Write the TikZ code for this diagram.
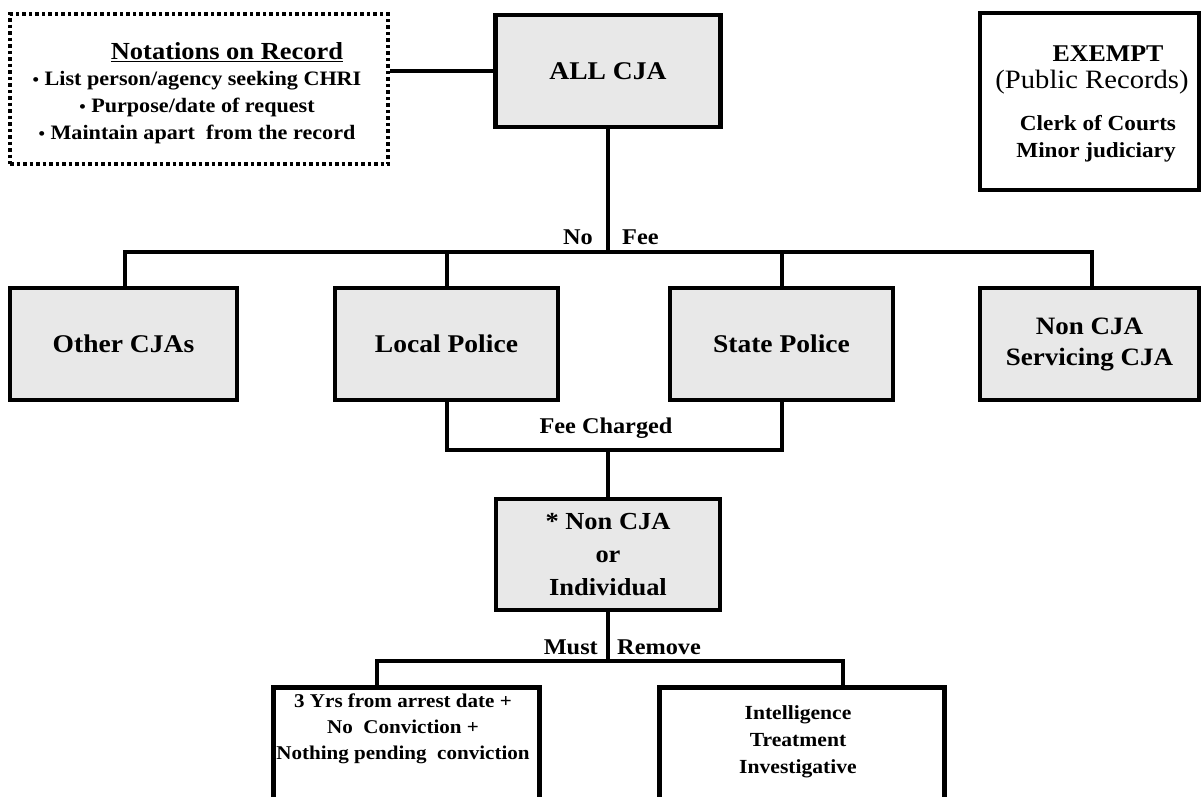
\documentclass[tikz,border=0pt]{standalone}
\usepackage{fontspec}
\setmainfont{Liberation Serif}[FakeStretch=1.08]
\newcommand{\blt}{{\fontsize{17}{17}\selectfont\textbullet}\ }
\begin{document}
\begin{tikzpicture}[x=1pt,y=-1pt,
  conn/.style={line width=4pt},
  gbox/.style={draw=black,line width=4.5pt,fill=gray!18,inner sep=0pt,align=center,font=\bfseries\fontsize{25.5}{30}\selectfont},
  wbox/.style={draw=black,line width=4.5pt,fill=white,inner sep=0pt},
  lbl/.style={inner sep=0pt,font=\bfseries\fontsize{22.5}{26}\selectfont},
  txt/.style={inner sep=0pt,align=center}]
\useasboundingbox (0,0) rectangle (1202,796);
\clip (0,0) rectangle (1202,796);
\fill[white] (0,0) rectangle (1202,796);
% notations box
\node[draw=black,line width=4pt,dash pattern=on 3.5pt off 3pt,fill=white,minimum width=378pt,minimum height=150pt,inner sep=0pt] (notes) at (199,89) {};
\node[txt,font=\bfseries\fontsize{24.5}{28}\selectfont] (ntitle) at (227,52) {\underline{Notations on Record}};
\node[txt,font=\bfseries\fontsize{20.5}{27}\selectfont] (nlist) at (197,108) {\blt List person/agency seeking CHRI\\ \blt Purpose/date of request\\ \blt Maintain apart\ \ from the record};
% top
\node[gbox,minimum width=225pt,minimum height=112pt] (all) at (608,71) {ALL CJA};
\node[wbox,minimum width=219pt,minimum height=177pt] (exempt) at (1089.5,101.5) {};
\node[txt,font=\bfseries\fontsize{24}{28}\selectfont] (ex1) at (1108,54) {EXEMPT};
\node[txt,font=\fontsize{26.5}{30}\selectfont] (ex2) at (1092,82) {(Public Records)};
\node[txt,font=\bfseries\fontsize{21.5}{25}\selectfont] (ex3) at (1098,123) {Clerk of Courts};
\node[txt,font=\bfseries\fontsize{21.5}{25}\selectfont] (ex4) at (1096,152) {Minor judiciary};
\draw[conn] (notes.east |- all.west) -- (all.west);
% middle row
\node[gbox,minimum width=227pt,minimum height=112pt] (other) at (123.5,344) {Other CJAs};
\node[gbox,minimum width=223pt,minimum height=112pt] (local) at (446.5,344) {Local Police};
\node[gbox,minimum width=223pt,minimum height=112pt] (state) at (781.5,344) {State Police};
\node[gbox,minimum width=219pt,minimum height=112pt,font=\bfseries\fontsize{25}{31}\selectfont] (noncja) at (1089.5,344) {Non CJA\\Servicing CJA};
\coordinate (bj) at (608,252);
\coordinate (bl) at (125,252);
\coordinate (br) at (1092,252);
\draw[conn] (all.south) -- (all.south |- bj);
\draw[conn] (bl |- other.north) -- (bl) -- (br) -- (br |- noncja.north);
\draw[conn] (local.north) -- (local.north |- bj);
\draw[conn] (state.north) -- (state.north |- bj);
\node[lbl,anchor=east] (no) at (593,237) {No};
\node[lbl,anchor=west] (fee) at (622,237) {Fee};
% fee charged
\coordinate (fc) at (608,450);
\draw[conn] (local.south) -- (local.south |- fc) -| (state.south);
\node[lbl] (feech) at (606,428) {Fee Charged};
\node[gbox,minimum width=224pt,minimum height=111pt,font=\bfseries\fontsize{24.5}{33}\selectfont] (indiv) at (608,554.5) {* Non CJA\\or\\Individual};
\draw[conn] (fc) -- (indiv.north);
% must remove
\coordinate (mj) at (608,661);
\coordinate (dl) at (377,661);
\coordinate (dr) at (843,661);
\draw[conn] (indiv.south) -- (mj);
\node[lbl,anchor=east] (must) at (598,647) {Must};
\node[lbl,anchor=west] (remove) at (617,647) {Remove};
\node[wbox,minimum width=266pt,minimum height=150pt,anchor=north west] (three) at (271,685) {};
\node[wbox,minimum width=285pt,minimum height=150pt,anchor=north west] (intel) at (657,685) {};
\draw[conn] (dl |- three.north) -- (dl) -- (dr) -- (dr |- intel.north);
\node[txt,font=\bfseries\fontsize{19.5}{26}\selectfont] (threetxt) at (403,729) {3 Yrs from arrest date +\\No\ \ Conviction +\\Nothing pending\ \ conviction};
\node[txt,font=\bfseries\fontsize{20}{27}\selectfont] (inteltxt) at (798,742) {Intelligence\\Treatment\\Investigative};
\end{tikzpicture}
\end{document}
